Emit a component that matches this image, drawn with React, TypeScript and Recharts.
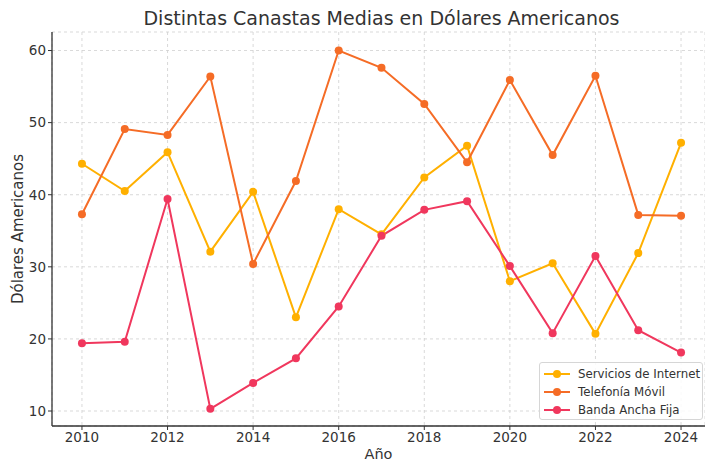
import React from 'react';
import { LineChart, Line, XAxis, YAxis, CartesianGrid } from 'recharts';

const years = [2010, 2011, 2012, 2013, 2014, 2015, 2016, 2017, 2018, 2019, 2020, 2021, 2022, 2023, 2024];
const internet = [44.3, 40.5, 45.9, 32.1, 40.4, 23.0, 38.0, 34.5, 42.4, 46.8, 28.0, 30.5, 20.7, 31.9, 47.2];
const movil = [37.3, 49.1, 48.3, 56.4, 30.4, 41.9, 60.0, 57.6, 52.6, 44.5, 55.9, 45.5, 56.5, 37.2, 37.1];
const fija = [19.4, 19.6, 39.4, 10.3, 13.9, 17.3, 24.5, 34.3, 37.9, 39.1, 30.1, 20.8, 31.5, 21.2, 18.1];
const xTicks = [2010, 2012, 2014, 2016, 2018, 2020, 2022, 2024];
const yTicks = [10, 20, 30, 40, 50, 60];

const seriesNames = ['Servicios de Internet', 'Telefonía Móvil', 'Banda Ancha Fija'];
const seriesColors = ['#FFB000', '#F56C26', '#F0375D'];

const data = years.map((y, i) => ({ year: y, internet: internet[i], movil: movil[i], fija: fija[i] }));

const FONT = '"DejaVu Sans", sans-serif';
const TEXT = '#333333';

export default function App() {
  const W = 705;
  const H = 464;
  return (
    <div style={{ position: 'absolute', left: 0, top: 0, width: W, height: H, background: '#fff', fontFamily: FONT }}>
      <div style={{ position: 'absolute', left: 0, width: W, top: 7, textAlign: 'center', fontSize: 19, color: TEXT, paddingLeft: 58, boxSizing: 'border-box', whiteSpace: 'nowrap' }}>
        Distintas Canastas Medias en Dólares Americanos
      </div>
      <LineChart width={W} height={H} data={data} margin={{ top: 32, right: 0, bottom: 0, left: 0 }}>
        <CartesianGrid stroke="#cfcfcf" strokeDasharray="3 3" strokeWidth={0.8} />
        <XAxis
          dataKey="year"
          type="number"
          domain={[2009.3, 2024.56]}
          ticks={xTicks}
          allowDataOverflow
          height={38}
          tickSize={4}
          tickLine={{ stroke: TEXT }}
          axisLine={{ stroke: TEXT, strokeWidth: 1.3 }}
          tick={{ fill: TEXT, fontSize: 13.5, fontFamily: FONT }}
          label={{ value: 'Año', position: 'insideBottom', offset: 5, fill: TEXT, fontSize: 14.5, fontFamily: FONT }}
        />
        <YAxis
          type="number"
          domain={[7.92, 62.57]}
          ticks={yTicks}
          allowDataOverflow
          width={52}
          tickSize={4}
          tickLine={{ stroke: TEXT }}
          axisLine={{ stroke: TEXT, strokeWidth: 1.3 }}
          tick={{ fill: TEXT, fontSize: 13.5, fontFamily: FONT }}
          label={{ value: 'Dólares Americanos', angle: -90, position: 'insideLeft', offset: 18, fill: TEXT, fontSize: 15, fontFamily: FONT, style: { textAnchor: 'middle' } }}
        />
        <Line dataKey="internet" name={seriesNames[0]} stroke={seriesColors[0]} strokeWidth={2} dot={{ r: 4, fill: seriesColors[0], stroke: seriesColors[0], strokeWidth: 0 }} isAnimationActive={false} />
        <Line dataKey="movil" name={seriesNames[1]} stroke={seriesColors[1]} strokeWidth={2} dot={{ r: 4, fill: seriesColors[1], stroke: seriesColors[1], strokeWidth: 0 }} isAnimationActive={false} />
        <Line dataKey="fija" name={seriesNames[2]} stroke={seriesColors[2]} strokeWidth={2} dot={{ r: 4, fill: seriesColors[2], stroke: seriesColors[2], strokeWidth: 0 }} isAnimationActive={false} />
      </LineChart>
      <div style={{ position: 'absolute', left: 539, top: 362, width: 164, height: 58, border: '1px solid #d6d6d6', borderRadius: 3, background: 'rgba(255,255,255,0.85)', boxSizing: 'border-box' }}>
        {seriesNames.map((n, i) => (
          <div key={n} style={{ position: 'absolute', left: 0, top: 2 + i * 18, height: 18, display: 'flex', alignItems: 'center' }}>
            <svg width={36} height={18} style={{ display: 'block' }}>
              <line x1={4} x2={30} y1={9} y2={9} stroke={seriesColors[i]} strokeWidth={2} />
              <circle cx={17} cy={9} r={4} fill={seriesColors[i]} />
            </svg>
            <span style={{ fontSize: 11.8, color: TEXT, marginLeft: 2, whiteSpace: 'nowrap' }}>{n}</span>
          </div>
        ))}
      </div>
    </div>
  );
}
